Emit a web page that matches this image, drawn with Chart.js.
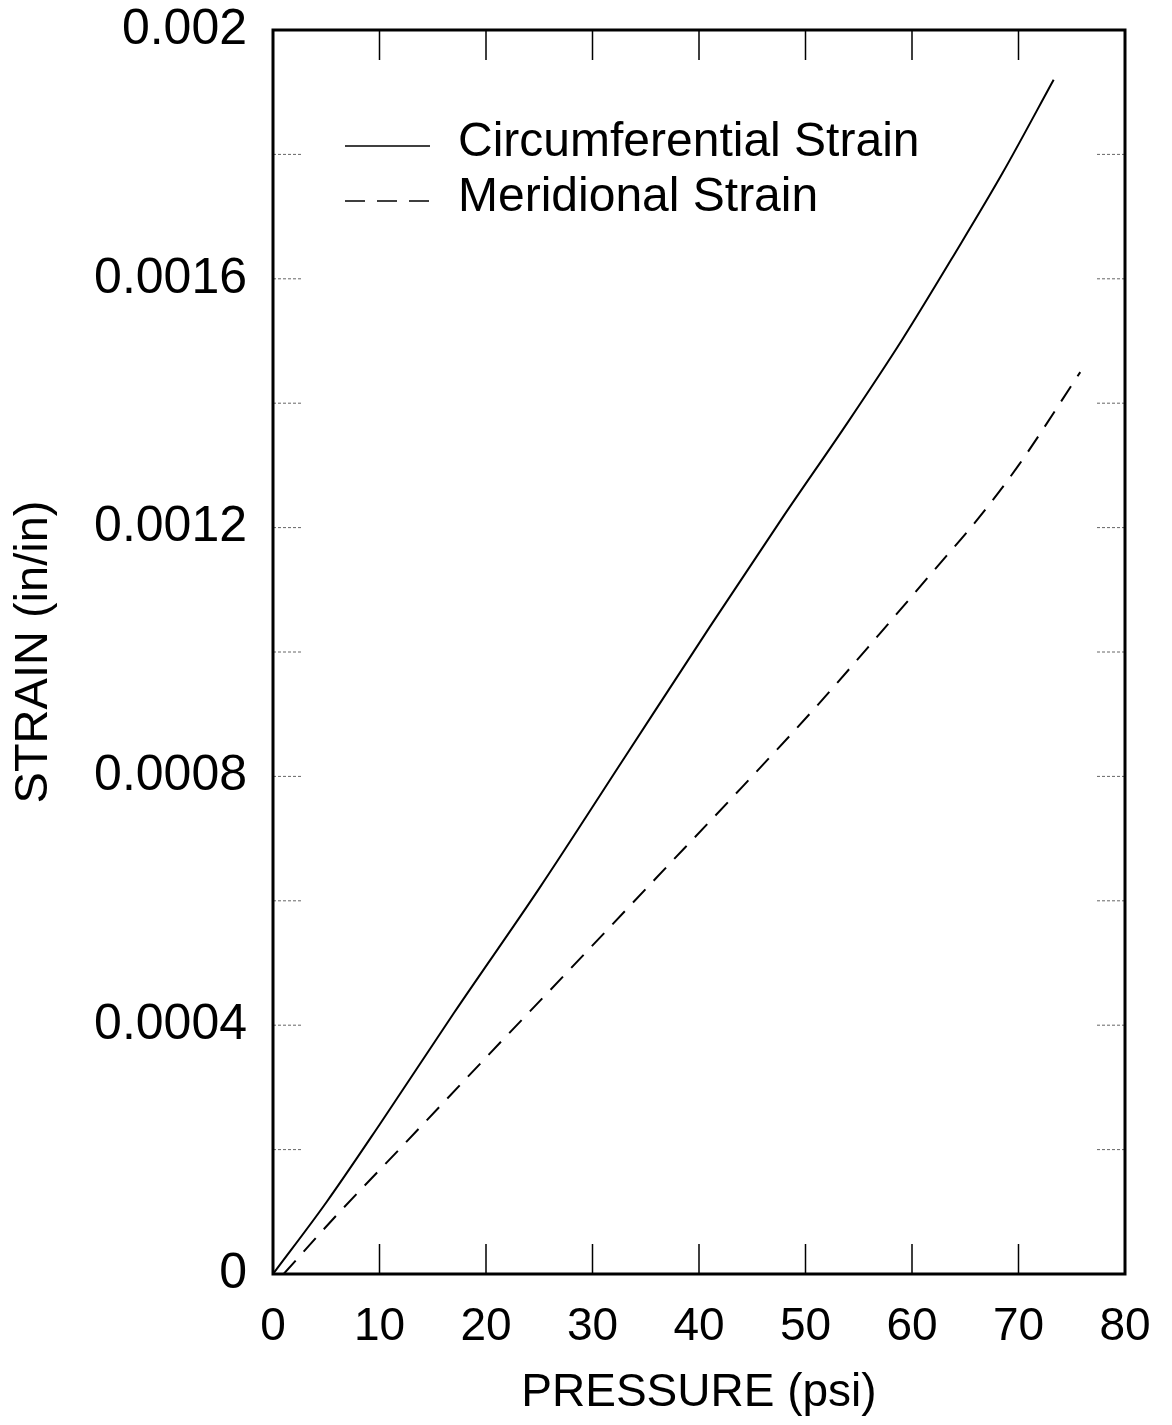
<!DOCTYPE html>
<html>
<head>
    <title>Strain vs Pressure</title>
    <meta charset="UTF-8">
    <style>
        html, body {
            margin: 0;
            padding: 0;
            background: #ffffff;
        }
        #chartBox {
            width: 1172px;
            height: 1425px;
        }
    </style>
    <script src="https://cdn.jsdelivr.net/npm/chart.js"></script>
</head>
<body>
<div id="chartBox">
    <canvas id="strainChart" width="1172" height="1425"></canvas>
</div>
<script>
    // values
    const circPressure = [0, 5, 10, 17, 25, 33, 41, 48, 54, 59, 64, 68.5, 73.3];
    const circStrain = [0, 0.000115, 0.00024, 0.00042, 0.00062, 0.00083, 0.00104, 0.00122, 0.00137, 0.0015, 0.00164, 0.00177, 0.00192];

    const meridPressure = [1, 6, 12, 20, 28, 36, 44, 51, 57, 62, 66, 70, 75.8];
    const meridStrain = [0, 0.000095, 0.000203, 0.000348, 0.000492, 0.000637, 0.000782, 0.000912, 0.00103, 0.00113, 0.00121, 0.0013, 0.00145];

    const pressureTicks = [0, 10, 20, 30, 40, 50, 60, 70, 80];
    const pressureTickLabels = ['0', '10', '20', '30', '40', '50', '60', '70', '80'];
    const strainTicks = [0, 0.0004, 0.0008, 0.0012, 0.0016, 0.002];
    const strainTickLabels = ['0', '0.0004', '0.0008', '0.0012', '0.0016', '0.002'];
    const strainMinorTicks = [0.0002, 0.0004, 0.0006, 0.0008, 0.001, 0.0012, 0.0014, 0.0016, 0.0018];

    const seriesNames = ['Circumferential Strain', 'Meridional Strain'];

    const toPoints = (xs, ys) => xs.map((x, i) => ({ x: x, y: ys[i] }));

    // frame, inward tick marks and the boxed-in legend
    const framePlugin = {
        id: 'frame',
        afterDraw(chart) {
            const ctx = chart.ctx;
            const area = chart.chartArea;
            const xs = chart.scales.x;
            const ys = chart.scales.y;
            ctx.save();

            // x ticks, top and bottom
            ctx.strokeStyle = '#000';
            ctx.lineWidth = 1.5;
            ctx.setLineDash([]);
            pressureTicks.slice(1, -1).forEach(v => {
                const px = xs.getPixelForValue(v);
                ctx.beginPath();
                ctx.moveTo(px, area.bottom);
                ctx.lineTo(px, area.bottom - 30);
                ctx.moveTo(px, area.top);
                ctx.lineTo(px, area.top + 30);
                ctx.stroke();
            });

            // y ticks, left and right (faint, dotted)
            ctx.strokeStyle = '#666';
            ctx.lineWidth = 1;
            ctx.setLineDash([3, 2]);
            strainMinorTicks.forEach(v => {
                const py = ys.getPixelForValue(v);
                ctx.beginPath();
                ctx.moveTo(area.left, py);
                ctx.lineTo(area.left + 28, py);
                ctx.moveTo(area.right, py);
                ctx.lineTo(area.right - 28, py);
                ctx.stroke();
            });

            // frame
            ctx.setLineDash([]);
            ctx.strokeStyle = '#000';
            ctx.lineWidth = 3;
            ctx.strokeRect(area.left, area.top, area.right - area.left, area.bottom - area.top);

            // legend
            const rows = [146, 201];
            ctx.font = '48px "Liberation Sans", Arial, sans-serif';
            ctx.fillStyle = '#000';
            ctx.textBaseline = 'middle';
            chart.data.datasets.forEach((ds, i) => {
                ctx.strokeStyle = '#000';
                ctx.lineWidth = 1.5;
                ctx.setLineDash(ds.borderDash && ds.borderDash.length ? [20, 12] : []);
                ctx.beginPath();
                ctx.moveTo(345, rows[i]);
                ctx.lineTo(430, rows[i]);
                ctx.stroke();
                ctx.setLineDash([]);
                ctx.fillText(ds.label, 458, rows[i] - 3);
            });

            ctx.restore();
        }
    };

    const ctx = document.getElementById('strainChart').getContext('2d');

    new Chart(ctx, {
        type: 'line',
        data: {
            datasets: [{
                label: seriesNames[0],
                data: toPoints(circPressure, circStrain),
                borderColor: '#000',
                borderWidth: 2,
                pointRadius: 0,
                fill: false,
                cubicInterpolationMode: 'monotone'
            }, {
                label: seriesNames[1],
                data: toPoints(meridPressure, meridStrain),
                borderColor: '#000',
                borderWidth: 2,
                borderDash: [18, 12],
                pointRadius: 0,
                fill: false,
                cubicInterpolationMode: 'monotone'
            }]
        },
        options: {
            responsive: false,
            animation: false,
            layout: {
                padding: { top: 30, right: 47, left: 0, bottom: 0 }
            },
            plugins: {
                legend: { display: false },
                tooltip: { enabled: false }
            },
            scales: {
                x: {
                    type: 'linear',
                    min: 0,
                    max: 80,
                    afterBuildTicks: scale => {
                        scale.ticks = pressureTicks.map(v => ({ value: v }));
                    },
                    afterFit: scale => {
                        scale.height = 151;
                        scale.paddingLeft = 0;
                        scale.paddingRight = 0;
                    },
                    ticks: {
                        color: '#000',
                        padding: 26,
                        maxRotation: 0,
                        font: { family: '"Liberation Sans", Arial, sans-serif', size: 46 },
                        callback: (value) => pressureTickLabels[pressureTicks.indexOf(value)]
                    },
                    grid: { display: false, drawTicks: false },
                    border: { display: false },
                    title: {
                        display: true,
                        text: 'PRESSURE (psi)',
                        color: '#000',
                        padding: { top: 0, bottom: 4 },
                        font: { family: '"Liberation Sans", Arial, sans-serif', size: 46 }
                    }
                },
                y: {
                    type: 'linear',
                    min: 0,
                    max: 0.002,
                    afterBuildTicks: scale => {
                        scale.ticks = strainTicks.map(v => ({ value: v }));
                    },
                    afterFit: scale => {
                        scale.width = 273;
                        scale.paddingTop = 0;
                        scale.paddingBottom = 0;
                    },
                    ticks: {
                        color: '#000',
                        padding: 26,
                        font: { family: '"Liberation Sans", Arial, sans-serif', size: 50 },
                        callback: (value) => {
                            const i = strainTicks.findIndex(t => Math.abs(t - value) < 1e-9);
                            return i >= 0 ? strainTickLabels[i] : '';
                        }
                    },
                    grid: { display: false, drawTicks: false },
                    border: { display: false },
                    title: {
                        display: true,
                        text: 'STRAIN (in/in)',
                        color: '#000',
                        padding: { top: 6, bottom: 0 },
                        font: { family: '"Liberation Sans", Arial, sans-serif', size: 47 }
                    }
                }
            }
        },
        plugins: [framePlugin]
    });
</script>
</body>
</html>
